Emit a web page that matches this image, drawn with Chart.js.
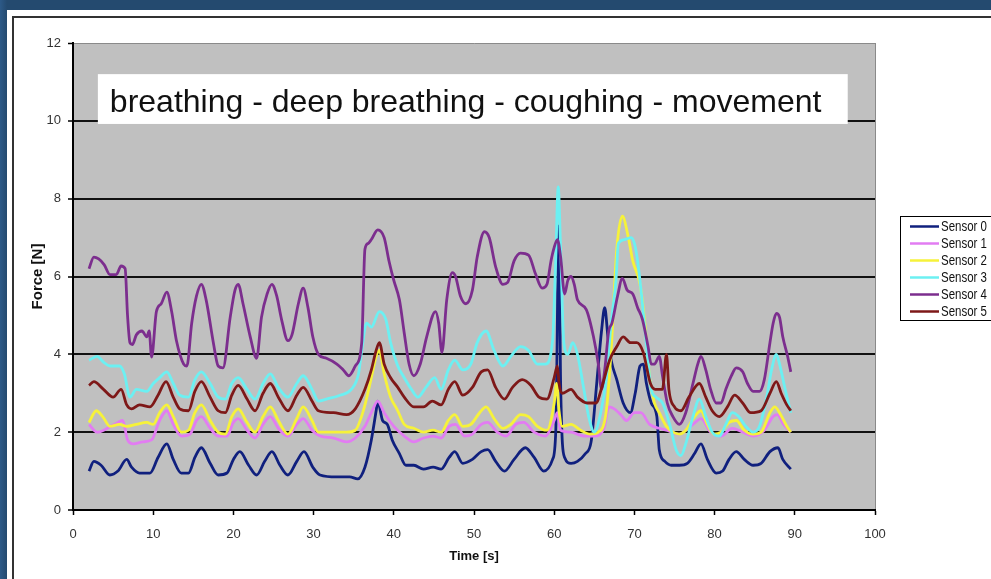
<!DOCTYPE html>
<html>
<head>
<meta charset="utf-8">
<script src="https://cdn.jsdelivr.net/npm/chart.js@4.4.1/dist/chart.umd.min.js"></script>
<style>
  html, body { margin: 0; padding: 0; }
  body {
    width: 991px; height: 579px; overflow: hidden; position: relative;
    background: linear-gradient(to right, #2d5a88 0px, #244a6f 7px);
  }
  #panel { position: absolute; left: 7px; top: 10px; right: 0; bottom: 0; background: #fff; }
  #frame { position: absolute; left: 12px; top: 16px; right: -4px; bottom: -4px;
           border-left: 2px solid #333; border-top: 2px solid #333; }
  #chart { position: absolute; left: 0; top: 0; }
</style>
</head>
<body>
<div id="panel"></div>
<div id="frame"></div>
<canvas id="chart" width="991" height="579"></canvas>
<script>
// Etiquetas y textos
const chartTitle = 'breathing - deep breathing - coughing - movement';
const xAxisTitle = 'Time [s]';
const yAxisTitle = 'Force [N]';
const sensorNames = ['Sensor 0', 'Sensor 1', 'Sensor 2', 'Sensor 3', 'Sensor 4', 'Sensor 5'];
const sensorColors = ['#10207e', '#e27cf2', '#f6f23a', '#6cf0f2', '#7c2e8e', '#7e1818'];

// Datos: [tiempo (s), fuerza (N)]
const sensor0 = [[2.0,1.0],[2.6,1.25],[3.5,1.15],[4.6,0.9],[5.6,1.0],[6.7,1.3],[7.3,1.1],[8.3,0.95],[9.6,0.95],[10.6,1.35],[11.7,1.7],[12.5,1.3],[13.5,0.95],[14.4,0.95],[15.2,1.35],[16.0,1.6],[17.1,1.2],[18.1,0.9],[19.2,0.95],[20.0,1.3],[20.8,1.5],[21.9,1.15],[22.9,0.9],[23.9,1.25],[24.8,1.5],[25.8,1.15],[26.8,0.9],[27.9,1.25],[28.8,1.5],[29.9,1.1],[30.8,0.9],[32.9,0.85],[34.5,0.85],[35.5,0.8],[36.4,1.1],[37.2,1.8],[37.8,2.55],[38.0,2.8],[38.6,2.3],[39.2,2.2],[39.8,1.8],[40.7,1.45],[41.5,1.15],[42.5,1.15],[43.7,1.05],[44.9,1.1],[45.9,1.05],[46.9,1.35],[47.6,1.5],[48.6,1.2],[49.8,1.3],[50.9,1.5],[51.7,1.55],[52.7,1.25],[53.8,1.0],[55.0,1.3],[56.4,1.6],[57.5,1.35],[58.7,1.0],[59.8,1.3],[60.2,2.05],[60.6,7.3],[60.8,3.25],[61.3,1.35],[62.1,1.2],[62.9,1.25],[63.9,1.45],[64.6,1.75],[65.3,3.25],[65.9,4.6],[66.3,5.2],[66.7,4.45],[67.1,3.85],[67.8,3.35],[68.6,2.75],[69.5,2.5],[70.1,3.0],[70.7,3.7],[71.1,3.75],[71.5,3.25],[72.1,2.75],[72.8,2.4],[73.1,1.55],[73.8,1.25],[74.6,1.15],[75.6,1.15],[76.6,1.2],[77.5,1.45],[78.3,1.7],[79.1,1.3],[80.2,0.95],[81.0,1.0],[81.8,1.3],[82.7,1.5],[83.7,1.3],[84.8,1.15],[85.8,1.2],[86.9,1.5],[87.9,1.6],[88.5,1.3],[89.5,1.05]];
const sensor1 = [[2.0,2.2],[3.0,2.0],[4.3,2.1],[5.6,2.25],[6.2,2.3],[6.8,1.8],[7.5,1.7],[8.7,1.75],[9.8,1.8],[10.8,2.3],[11.7,2.55],[12.5,2.2],[13.5,1.9],[14.6,1.95],[15.4,2.3],[16.0,2.4],[17.1,2.1],[18.1,1.9],[19.2,1.9],[20.0,2.25],[20.6,2.35],[21.7,2.05],[22.7,1.85],[23.7,2.2],[24.6,2.4],[25.6,2.1],[26.8,1.9],[27.9,2.2],[28.7,2.35],[29.8,2.05],[30.8,1.9],[32.5,1.85],[34.1,1.75],[35.2,1.85],[36.4,2.15],[37.2,2.5],[38.0,2.8],[38.8,2.5],[40.0,2.15],[41.3,1.9],[42.5,1.75],[43.7,1.85],[44.9,1.9],[45.9,1.85],[46.9,2.15],[47.7,2.2],[48.8,1.9],[49.8,1.95],[50.9,2.2],[51.7,2.25],[52.9,2.0],[54.0,1.9],[55.2,2.2],[56.2,2.25],[57.5,2.0],[58.9,1.9],[60.0,2.3],[60.4,2.5],[60.8,2.05],[62.1,2.0],[63.7,1.9],[65.0,1.9],[66.2,2.1],[66.8,2.65],[67.5,2.6],[68.3,2.45],[69.0,2.3],[70.0,2.5],[70.8,2.5],[71.9,2.2],[73.1,2.1],[74.0,2.05],[75.5,1.95],[77.3,2.2],[78.3,2.35],[79.5,2.0],[80.8,1.9],[82.2,2.1],[83.5,2.0],[84.8,1.9],[86.2,2.05],[87.3,2.4],[87.8,2.45],[88.6,2.2],[89.5,2.0]];
const sensor2 = [[2.0,2.25],[2.9,2.55],[3.7,2.4],[4.6,2.15],[5.8,2.2],[6.7,2.15],[7.9,2.2],[9.2,2.25],[10.0,2.2],[10.8,2.5],[11.7,2.7],[12.5,2.4],[13.5,2.0],[14.4,2.05],[15.2,2.5],[16.0,2.7],[17.1,2.3],[18.1,2.0],[19.0,1.95],[19.8,2.4],[20.6,2.6],[21.7,2.25],[22.7,2.0],[23.7,2.4],[24.6,2.65],[25.6,2.3],[26.8,1.95],[27.9,2.35],[28.7,2.65],[29.8,2.3],[30.6,2.0],[32.5,2.0],[34.1,2.0],[35.2,2.05],[36.2,2.55],[37.2,3.4],[37.8,3.95],[38.2,4.1],[38.8,3.5],[39.6,2.9],[40.5,2.55],[41.3,2.2],[42.5,2.1],[43.7,2.0],[44.9,2.05],[45.9,2.0],[46.8,2.3],[47.6,2.45],[48.6,2.15],[49.6,2.2],[50.7,2.5],[51.5,2.65],[52.5,2.35],[53.6,2.1],[54.6,2.2],[55.8,2.45],[56.8,2.4],[57.9,2.15],[59.1,2.05],[60.0,2.75],[60.3,3.25],[60.6,2.55],[61.0,2.15],[62.1,2.2],[63.3,2.05],[64.5,1.95],[65.5,2.0],[66.5,2.55],[67.1,4.1],[67.8,6.7],[68.5,7.55],[69.2,7.05],[69.8,6.4],[70.7,5.8],[71.3,4.8],[71.9,3.4],[72.5,2.75],[73.1,2.5],[74.0,2.15],[74.8,2.0],[75.6,1.95],[76.4,2.05],[77.5,2.4],[78.3,2.55],[79.1,2.2],[79.9,1.95],[80.8,2.0],[81.8,2.25],[82.7,2.3],[83.7,2.05],[84.8,1.95],[85.8,2.0],[86.9,2.5],[87.5,2.65],[88.1,2.5],[89.0,2.15],[89.5,2.0]];
const sensor3 = [[2.0,3.85],[3.0,3.95],[3.8,3.8],[4.6,3.7],[5.8,3.7],[6.4,3.5],[7.1,2.9],[7.9,3.1],[9.2,3.05],[10.0,3.25],[10.8,3.4],[11.7,3.55],[12.5,3.25],[13.3,2.95],[14.4,2.9],[15.2,3.35],[16.0,3.55],[17.1,3.25],[18.1,2.9],[19.0,2.85],[19.8,3.25],[20.6,3.4],[21.7,3.1],[22.7,2.85],[23.7,3.25],[24.6,3.5],[25.6,3.15],[26.8,2.9],[27.9,3.25],[28.7,3.45],[29.8,3.1],[30.6,2.8],[31.6,2.85],[33.3,2.95],[34.7,3.1],[35.6,3.5],[36.0,4.1],[36.6,4.8],[37.2,4.7],[38.2,5.1],[39.0,4.9],[39.6,4.3],[40.5,3.7],[41.3,3.4],[42.2,3.1],[43.0,2.9],[44.0,3.15],[45.1,3.4],[45.9,3.1],[46.8,3.6],[47.6,3.85],[48.6,3.6],[49.6,3.75],[50.4,4.3],[51.5,4.6],[52.5,4.1],[53.6,3.7],[54.6,3.95],[55.8,4.2],[56.8,4.1],[57.9,3.75],[58.9,3.75],[59.8,4.35],[60.2,6.5],[60.5,8.3],[60.8,6.7],[61.2,4.3],[61.7,4.0],[62.3,4.3],[62.9,4.0],[63.7,3.1],[64.3,2.4],[65.0,2.0],[65.8,2.5],[66.5,3.4],[67.1,4.8],[67.7,5.9],[68.0,6.85],[68.8,6.95],[69.6,7.0],[70.0,6.85],[70.4,6.4],[70.9,5.5],[71.4,4.45],[72.1,3.1],[72.7,2.9],[73.5,2.75],[74.4,2.2],[75.2,1.55],[75.8,1.4],[76.4,1.7],[77.3,2.4],[78.1,2.85],[78.9,2.4],[79.7,2.0],[80.6,1.9],[81.4,2.2],[82.2,2.5],[83.0,2.4],[83.9,2.15],[84.8,2.0],[85.6,2.15],[86.5,2.9],[87.1,3.6],[87.7,4.0],[88.1,3.75],[88.8,3.1],[89.5,2.5]];
const sensor4 = [[2.0,6.2],[2.6,6.5],[3.2,6.45],[3.9,6.3],[4.6,6.05],[5.4,6.05],[6.0,6.27],[6.5,6.2],[6.8,5.0],[7.1,4.3],[7.4,4.25],[7.9,4.5],[8.6,4.6],[9.2,4.45],[9.5,4.6],[9.8,3.93],[10.4,5.1],[11.0,5.3],[11.7,5.6],[12.3,5.1],[12.9,4.35],[13.8,3.75],[14.2,3.7],[14.8,4.8],[15.4,5.5],[16.0,5.8],[16.6,5.4],[17.5,4.3],[18.1,3.7],[18.7,3.65],[19.6,4.95],[20.2,5.65],[20.6,5.8],[21.2,5.3],[22.1,4.45],[22.9,3.9],[23.5,4.95],[24.2,5.55],[24.8,5.8],[25.4,5.5],[26.0,4.9],[26.8,4.35],[27.3,4.5],[28.1,5.3],[28.7,5.7],[29.3,5.2],[29.9,4.45],[30.6,4.0],[31.6,3.9],[32.9,3.75],[33.7,3.6],[34.4,3.45],[35.2,3.7],[36.0,4.3],[36.4,6.7],[36.8,6.85],[37.2,6.95],[38.0,7.2],[38.8,7.0],[39.4,6.4],[40.0,5.9],[40.7,5.4],[41.3,4.55],[41.9,3.75],[42.5,3.45],[43.3,3.75],[44.1,4.45],[45.2,5.1],[45.6,4.8],[46.0,4.05],[46.6,5.4],[47.3,6.1],[47.7,6.0],[48.3,5.5],[49.0,5.3],[49.8,5.65],[50.4,6.5],[51.3,7.15],[51.9,7.0],[52.7,6.25],[53.6,5.8],[54.2,5.85],[55.0,6.4],[55.8,6.6],[56.8,6.55],[57.7,6.05],[58.5,5.7],[59.1,5.8],[59.6,6.4],[60.0,6.75],[60.4,6.95],[60.8,6.5],[61.3,5.55],[61.7,5.9],[62.1,6.0],[62.5,5.8],[62.9,5.4],[64.0,5.15],[64.9,4.45],[65.5,3.75],[65.9,3.1],[66.3,3.6],[66.8,4.6],[67.2,4.8],[67.9,5.5],[68.5,5.95],[69.1,5.65],[69.8,5.55],[70.4,5.2],[71.0,4.9],[71.7,4.2],[72.1,3.75],[72.5,3.75],[73.1,3.95],[73.5,3.45],[74.1,2.75],[74.8,2.4],[75.6,2.2],[76.4,2.5],[77.3,3.25],[77.9,3.75],[78.3,3.95],[78.9,3.6],[79.5,3.1],[80.2,2.75],[80.8,2.75],[81.4,3.1],[82.1,3.45],[82.7,3.65],[83.5,3.55],[84.1,3.25],[84.8,3.05],[85.6,3.05],[86.2,3.35],[86.9,4.3],[87.3,4.8],[87.7,5.05],[88.1,4.95],[88.5,4.45],[89.1,3.95],[89.5,3.55]];
const sensor5 = [[2.0,3.2],[2.6,3.3],[3.8,3.1],[5.0,2.9],[6.0,3.1],[6.7,2.7],[7.3,2.6],[8.3,2.7],[9.6,2.65],[10.6,2.95],[11.6,3.3],[12.5,2.9],[13.3,2.6],[14.4,2.55],[15.2,3.05],[16.0,3.3],[17.1,2.9],[18.1,2.55],[19.0,2.5],[19.8,2.95],[20.6,3.2],[21.7,2.85],[22.7,2.55],[23.7,3.0],[24.6,3.25],[25.6,2.9],[26.8,2.55],[27.9,2.95],[28.7,3.15],[29.8,2.8],[30.6,2.55],[32.5,2.5],[34.1,2.45],[35.2,2.6],[36.4,3.1],[37.2,3.6],[37.8,4.1],[38.2,4.3],[38.8,3.75],[39.6,3.4],[40.5,3.15],[41.3,2.9],[42.5,2.65],[43.7,2.65],[44.8,2.8],[45.9,2.7],[46.8,3.1],[47.6,3.3],[48.6,2.95],[49.8,3.15],[50.9,3.55],[51.7,3.6],[52.7,3.15],[53.8,2.85],[54.8,3.15],[56.0,3.35],[57.1,3.2],[58.1,2.9],[59.1,2.85],[60.0,3.4],[60.4,3.7],[60.6,3.25],[61.0,3.0],[62.1,3.1],[62.9,2.9],[64.1,2.75],[65.2,2.75],[66.0,3.2],[66.9,3.85],[67.8,4.2],[68.6,4.45],[69.5,4.3],[70.3,4.3],[71.1,4.05],[72.0,3.25],[72.6,3.1],[73.5,3.1],[74.0,4.0],[74.3,3.1],[75.0,2.65],[75.8,2.55],[76.8,2.9],[78.1,3.25],[78.9,2.9],[79.7,2.55],[80.6,2.4],[81.6,2.65],[82.5,2.95],[83.5,2.75],[84.5,2.5],[85.8,2.55],[86.9,3.0],[87.7,3.3],[88.3,3.0],[89.0,2.7],[89.5,2.55]];
const sensorSeries = [sensor0, sensor1, sensor2, sensor3, sensor4, sensor5];

const SANS = '"Liberation Sans", Arial, sans-serif';

// Fondo gris del área de trazado
const plotBackground = {
  id: 'plotBackground',
  beforeDraw(chart) {
    const { ctx, chartArea: a } = chart;
    ctx.save();
    ctx.fillStyle = '#c0c0c0';
    ctx.fillRect(a.left, a.top, a.width, a.height);
    ctx.restore();
  }
};

// Recuadro blanco con el título, en coordenadas de datos
const titleBox = {
  id: 'titleBox',
  beforeDatasetsDraw(chart) {
    const { ctx, scales: { x, y } } = chart;
    const left = x.getPixelForValue(3.1), right = x.getPixelForValue(96.6);
    const top = y.getPixelForValue(11.2), bottom = y.getPixelForValue(9.92);
    ctx.save();
    ctx.fillStyle = '#fff';
    ctx.fillRect(left, top, right - left, bottom - top);
    ctx.fillStyle = '#111';
    ctx.font = '32px ' + SANS;
    ctx.textBaseline = 'alphabetic';
    ctx.fillText(chartTitle, left + 12, top + 38);
    ctx.restore();
  }
};

// Leyenda a la derecha, recortada por el borde (texto estrecho)
const sideLegend = {
  id: 'sideLegend',
  afterDraw(chart) {
    const ctx = chart.ctx;
    const boxLeft = 900.5, boxTop = 216.5, rowH = 17;
    ctx.save();
    ctx.fillStyle = '#fff';
    ctx.strokeStyle = '#000';
    ctx.lineWidth = 1;
    ctx.fillRect(boxLeft, boxTop, 110, rowH * 6 + 2);
    ctx.strokeRect(boxLeft, boxTop, 110, rowH * 6 + 2);
    chart.data.datasets.forEach((ds, i) => {
      const yy = boxTop + 10 + i * rowH;
      ctx.strokeStyle = ds.borderColor;
      ctx.lineWidth = 2.5;
      ctx.beginPath();
      ctx.moveTo(910, yy);
      ctx.lineTo(939, yy);
      ctx.stroke();
      ctx.save();
      ctx.translate(941, yy + 0.5);
      ctx.scale(0.82, 1);
      ctx.fillStyle = '#111';
      ctx.font = '14px ' + SANS;
      ctx.textBaseline = 'middle';
      ctx.fillText(ds.label, 0, 0);
      ctx.restore();
    });
    ctx.restore();
  }
};

new Chart(document.getElementById('chart'), {
  type: 'line',
  data: {
    datasets: sensorSeries.map((pts, i) => ({
      label: sensorNames[i],
      data: pts.map(p => ({ x: p[0], y: p[1] })),
      borderColor: sensorColors[i],
      borderWidth: 2.8,
      pointRadius: 0,
      cubicInterpolationMode: 'monotone',
      order: 5 - i
    }))
  },
  options: {
    responsive: false,
    animation: false,
    devicePixelRatio: 1,
    layout: { padding: { left: 20, top: 43, right: 116, bottom: 10 } },
    plugins: { legend: { display: false }, tooltip: { enabled: false } },
    scales: {
      x: {
        type: 'linear', min: 0, max: 100,
        ticks: { stepSize: 10, color: '#333', font: { family: SANS, size: 13 }, padding: 12, maxRotation: 0 },
        grid: {
          drawOnChartArea: true,
          color: c => (c.tick && c.tick.value === 100) ? '#8a8a8a' : 'rgba(0,0,0,0)',
          tickColor: '#000', tickLength: 5, tickWidth: 1.5
        },
        border: { color: '#000', width: 2 },
        title: { display: true, text: xAxisTitle, color: '#111',
                 font: { family: SANS, size: 13, weight: 'bold' }, padding: { top: 2, bottom: 5 } },
        afterFit: s => { s.height = 59; }
      },
      y: {
        min: 0, max: 12,
        ticks: { stepSize: 2, color: '#333', font: { family: SANS, size: 13 }, padding: 7 },
        grid: {
          color: c => (c.tick && c.tick.value === 12) ? '#8a8a8a' : '#111',
          lineWidth: c => (c.tick && c.tick.value === 12) ? 1 : 2,
          tickColor: '#000', tickLength: 5, tickWidth: 1.5
        },
        border: { color: '#000', width: 2 },
        title: { display: true, text: yAxisTitle, color: '#111',
                 font: { family: SANS, size: 15, weight: 'bold' },
                 padding: { top: 9, bottom: 0 } },
        afterFit: s => { s.width = 53; }
      }
    }
  },
  plugins: [plotBackground, titleBox, sideLegend]
});
</script>
</body>
</html>
